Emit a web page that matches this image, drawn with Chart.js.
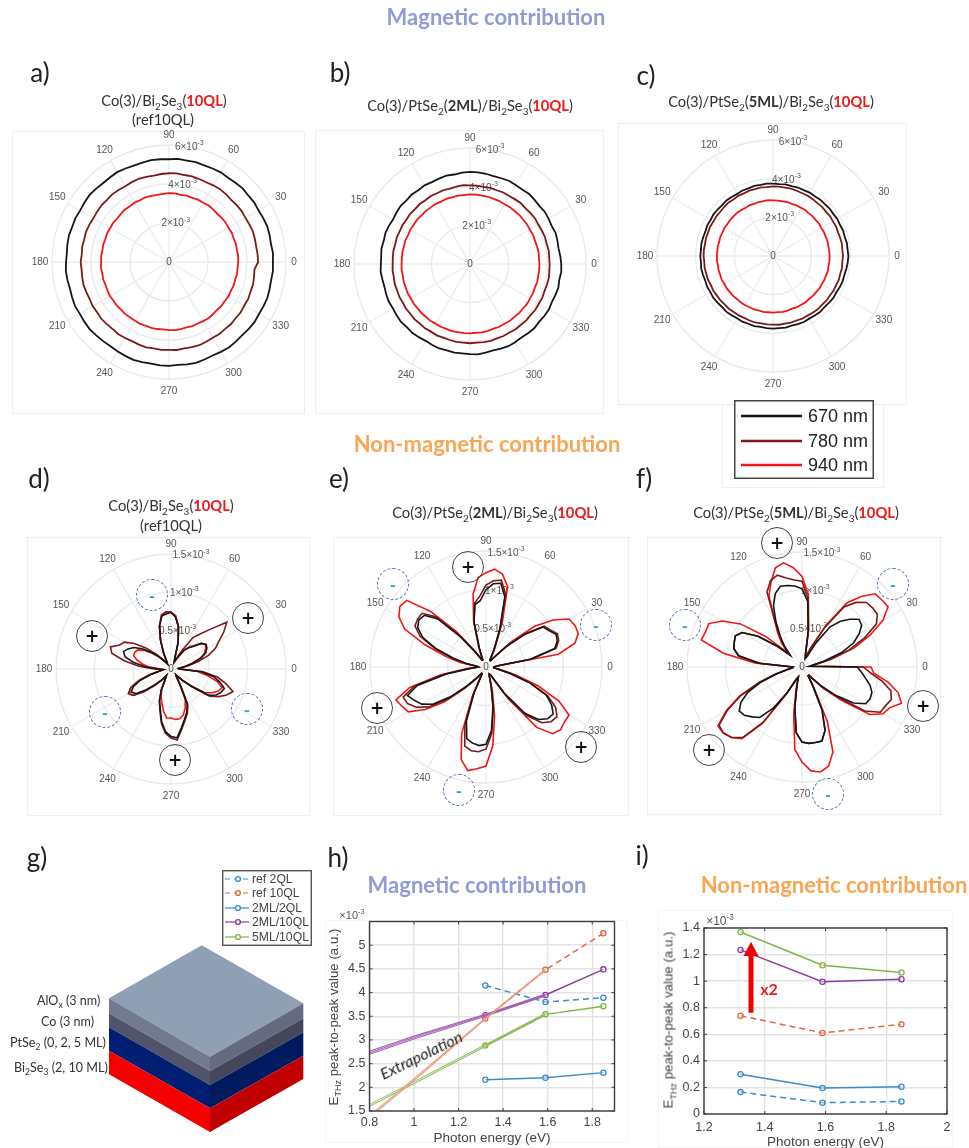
<!DOCTYPE html>
<html>
<head>
<meta charset="utf-8">
<title>THz emission polar maps</title>
<script src="https://cdn.jsdelivr.net/npm/chart.js@4"></script>
<style>
html, body { margin: 0; padding: 0; background: #fff; }
#page { position: relative; width: 969px; height: 1148px; overflow: hidden; filter: blur(0.4px); font-family: Lato, sans-serif; color: #333; }
#page canvas { position: absolute; }
.txt { position: absolute; white-space: nowrap; line-height: 1; }
.frame { position: absolute; border: 1px solid #efefef; box-sizing: border-box; }
.frame.faint { border-color: #f6f6f6; }
.mark { position: absolute; width: 32px; height: 32px; border-radius: 50%; box-sizing: border-box; display: flex; align-items: center; justify-content: center; font-weight: 700; background: transparent; }
.mark.plus { border: 1.4px solid #444; color: #111; font-size: 17px; font-family: "DejaVu Sans", sans-serif; }
.mark.minus { border: 1.4px dashed #4f74b8; color: #2ca6c6; font-size: 17px; }
sub, sup { font-size: 68%; line-height: 0; }
b.red { color: #f01818; }
</style>
</head>
<body>
<div id="page"></div>
<script>
// magnetic maps, 5 deg steps starting at 0 deg, one row per quadrant, units of 1e-3
const magA670 = [
  5.33,5.35,5.31,5.34,5.36,5.33,5.30,5.33,5.31,5.34,5.30,5.28,5.31,5.29,5.27,5.30,5.28,5.31,
  5.27,5.29,5.31,5.28,5.26,5.29,5.32,5.29,5.27,5.30,5.33,5.30,5.27,5.30,5.28,5.31,5.29,5.26,
  5.28,5.31,5.29,5.26,5.29,5.32,5.29,5.31,5.33,5.30,5.28,5.26,5.29,5.31,5.34,5.31,5.29,5.32,
  5.33,5.30,5.33,5.35,5.32,5.29,5.32,5.35,5.33,5.31,5.34,5.36,5.33,5.35,5.37,5.34,5.32,5.35];
const magA780 = [
  4.57,4.56,4.54,4.56,4.58,4.55,4.53,4.55,4.53,4.51,4.54,4.56,4.54,4.51,4.53,4.55,4.53,4.56,
  4.55,4.53,4.50,4.52,4.54,4.52,4.49,4.51,4.53,4.50,4.52,4.50,4.48,4.51,4.53,4.50,4.52,4.49,
  4.53,4.50,4.52,4.54,4.51,4.49,4.52,4.50,4.53,4.51,4.49,4.52,4.50,4.48,4.51,4.53,4.50,4.52,
  4.51,4.53,4.50,4.52,4.54,4.51,4.49,4.51,4.48,4.50,4.47,4.49,4.46,4.48,4.45,4.46,4.43,4.40];
const magA940 = [
  3.55,3.56,3.54,3.55,3.53,3.55,3.52,3.54,3.52,3.50,3.52,3.54,3.51,3.53,3.50,3.52,3.50,3.53,
  3.53,3.51,3.49,3.51,3.53,3.50,3.52,3.49,3.51,3.49,3.47,3.50,3.48,3.50,3.47,3.49,3.47,3.49,
  3.48,3.50,3.47,3.49,3.46,3.48,3.50,3.47,3.49,3.47,3.49,3.47,3.48,3.50,3.48,3.50,3.49,3.47,
  3.49,3.51,3.49,3.47,3.50,3.48,3.50,3.52,3.50,3.48,3.51,3.49,3.52,3.50,3.53,3.51,3.54,3.53];

const magB670 = [
  4.72,4.69,4.65,4.68,4.71,4.66,4.69,4.72,4.68,4.71,4.74,4.70,4.72,4.75,4.72,4.70,4.74,4.76,
  4.77,4.74,4.70,4.73,4.70,4.67,4.70,4.66,4.69,4.65,4.68,4.64,4.60,4.64,4.66,4.62,4.65,4.61,
  4.61,4.64,4.60,4.58,4.61,4.63,4.60,4.63,4.66,4.62,4.65,4.62,4.59,4.62,4.65,4.63,4.66,4.64,
  4.66,4.69,4.66,4.63,4.66,4.69,4.67,4.64,4.67,4.70,4.66,4.69,4.71,4.67,4.70,4.73,4.69,4.74];
const magB780 = [
  4.12,4.11,4.13,4.10,4.12,4.10,4.08,4.11,4.09,4.07,4.10,4.08,4.06,4.08,4.06,4.08,4.05,4.07,
  4.07,4.09,4.06,4.04,4.06,4.04,4.06,4.03,4.05,4.02,4.04,4.01,4.03,4.01,4.03,4.00,4.02,4.01,
  4.00,4.02,4.00,4.03,4.01,4.03,4.01,4.04,4.02,4.05,4.03,4.06,4.04,4.07,4.05,4.07,4.09,4.08,
  4.10,4.08,4.10,4.12,4.09,4.11,4.09,4.12,4.10,4.12,4.10,4.13,4.11,4.13,4.10,4.12,4.14,4.12];
const magB940 = [
  3.59,3.58,3.60,3.58,3.57,3.59,3.57,3.59,3.58,3.60,3.58,3.59,3.57,3.59,3.58,3.60,3.59,3.60,
  3.60,3.58,3.59,3.57,3.58,3.56,3.58,3.56,3.57,3.55,3.57,3.55,3.56,3.54,3.56,3.54,3.55,3.54,
  3.54,3.55,3.53,3.55,3.54,3.56,3.54,3.56,3.55,3.57,3.56,3.58,3.56,3.58,3.57,3.59,3.58,3.59,
  3.59,3.57,3.59,3.58,3.56,3.58,3.57,3.59,3.57,3.59,3.58,3.60,3.58,3.59,3.57,3.60,3.58,3.59];

const magC670 = [
  3.90,3.87,3.88,3.84,3.86,3.82,3.84,3.80,3.82,3.79,3.80,3.77,3.79,3.76,3.77,3.74,3.76,3.73,
  3.74,3.76,3.73,3.75,3.72,3.74,3.71,3.73,3.75,3.72,3.74,3.76,3.73,3.75,3.72,3.74,3.76,3.74,
  3.76,3.74,3.77,3.75,3.73,3.76,3.74,3.77,3.75,3.73,3.76,3.74,3.72,3.75,3.73,3.75,3.72,3.74,
  3.76,3.74,3.76,3.73,3.75,3.77,3.74,3.76,3.78,3.75,3.77,3.80,3.78,3.81,3.83,3.82,3.85,3.88];
const magC780 = [
  3.62,3.60,3.62,3.60,3.58,3.60,3.58,3.60,3.57,3.59,3.57,3.59,3.60,3.58,3.59,3.61,3.59,3.60,
  3.60,3.58,3.60,3.58,3.60,3.57,3.59,3.57,3.60,3.58,3.56,3.58,3.56,3.59,3.57,3.59,3.57,3.59,
  3.59,3.57,3.59,3.57,3.58,3.55,3.57,3.55,3.56,3.54,3.56,3.53,3.55,3.53,3.55,3.56,3.54,3.55,
  3.55,3.57,3.55,3.57,3.55,3.58,3.56,3.58,3.60,3.58,3.60,3.58,3.61,3.59,3.62,3.60,3.62,3.60];
const magC940 = [
  2.93,2.92,2.91,2.92,2.90,2.91,2.89,2.91,2.89,2.90,2.88,2.90,2.88,2.89,2.87,2.88,2.87,2.88,
  2.88,2.90,2.88,2.89,2.87,2.89,2.87,2.89,2.91,2.89,2.90,2.88,2.90,2.88,2.90,2.88,2.90,2.89,
  2.90,2.91,2.89,2.91,2.90,2.92,2.90,2.92,2.91,2.92,2.90,2.92,2.93,2.91,2.93,2.91,2.93,2.92,
  2.93,2.91,2.93,2.92,2.90,2.92,2.91,2.93,2.90,2.92,2.91,2.93,2.91,2.93,2.92,2.94,2.92,2.93];

// non-magnetic maps, 5 deg steps starting at 0 deg, one row per lobe, units of 1e-3
const nonD670 = [
  .12,.10,.20,.30,.42,.50,.54,.56,.52,.42,.36,.30,
  .18,.10,.14,.36,.56,.68,.74,.72,.70,.58,.40,.22,
  .10,.08,.14,.24,.34,.46,.56,.62,.66,.62,.50,.34,
  .16,.10,.14,.26,.42,.54,.60,.56,.42,.28,.18,.10,
  .14,.30,.44,.54,.70,.82,.88,.90,.78,.68,.60,.50,
  .24,.12,.10,.20,.36,.60,.68,.72,.74,.66,.56,.40];
const nonD780 = [
  .10,.10,.22,.36,.52,.64,.72,.84,.95,.74,.60,.50,
  .26,.10,.14,.36,.56,.68,.74,.75,.70,.58,.40,.24,
  .12,.08,.16,.28,.42,.58,.70,.74,.84,.80,.62,.42,
  .22,.10,.14,.28,.44,.58,.64,.60,.46,.30,.20,.12,
  .14,.30,.44,.56,.72,.84,.90,.93,.80,.70,.62,.52,
  .26,.14,.10,.22,.36,.62,.72,.80,.86,.74,.62,.42];
const nonD940 = [
  .10,.10,.18,.28,.40,.48,.52,.55,.52,.44,.38,.30,
  .16,.10,.14,.36,.56,.70,.74,.75,.72,.58,.40,.22,
  .10,.08,.12,.22,.32,.42,.50,.52,.52,.46,.38,.28,
  .14,.10,.16,.30,.46,.58,.64,.60,.44,.30,.18,.10,
  .14,.28,.38,.46,.56,.64,.64,.66,.66,.62,.54,.44,
  .22,.12,.10,.20,.34,.54,.62,.68,.71,.62,.48,.34];

const nonE670 = [
  .10,.14,.58,.92,.98,1.0,.94,.90,.66,.38,.16,.10,
  .10,.24,.52,.94,1.10,1.08,1.0,.86,.82,.60,.24,.10,
  .10,.22,.50,.88,1.04,1.06,1.02,.90,.68,.44,.26,.12,
  .10,.20,.52,.92,1.08,1.02,.96,.84,.60,.34,.18,.10,
  .10,.36,.74,.96,1.0,1.02,1.0,.82,.52,.26,.12,.10,
  .12,.42,.78,.96,1.04,1.06,.98,.86,.60,.32,.16,.10];
const nonE780 = [
  .10,.14,.60,.94,1.0,1.02,.96,.92,.68,.40,.16,.10,
  .10,.24,.54,.98,1.14,1.12,1.06,.92,.84,.60,.24,.10,
  .10,.22,.52,.92,1.08,1.08,1.06,.94,.70,.44,.26,.12,
  .10,.22,.56,.96,1.14,1.12,1.04,.90,.64,.36,.18,.10,
  .10,.38,.80,1.06,1.10,1.10,1.06,.86,.54,.26,.12,.10,
  .12,.44,.82,1.02,1.10,1.12,1.04,.88,.62,.34,.16,.10];
const nonE940 = [
  .10,.14,.95,1.19,1.27,1.27,1.24,1.06,.82,.46,.18,.10,
  .10,.28,.62,1.08,1.22,1.27,1.22,1.16,.96,.62,.28,.10,
  .10,.26,.60,1.02,1.34,1.36,1.30,1.16,.84,.54,.34,.14,
  .10,.26,.60,1.02,1.24,1.20,1.16,.96,.70,.40,.22,.10,
  .10,.42,.92,1.24,1.36,1.32,1.28,1.02,.64,.32,.14,.10,
  .12,.50,1.02,1.22,1.26,1.24,1.24,1.04,.72,.40,.20,.10];

const nonF670 = [
  .72,.10,.14,.30,.55,.74,.86,.95,.97,.88,.78,.64,
  .36,.14,.12,.18,.46,.86,1.02,1.06,1.08,1.09,1.02,.88,
  .68,.50,.36,.22,.42,.70,.90,.96,.94,.92,.84,.56,
  .12,.12,.20,.34,.56,.78,.92,1.0,.98,.92,.86,.66,
  .38,.18,.14,.26,.54,.86,.98,1.0,1.0,1.0,.88,.62,
  .28,.14,.14,.34,.58,.82,.96,.98,.97,.92,.84,.78];
const nonF780 = [
  .80,.10,.16,.38,.66,.90,1.12,1.20,1.20,1.19,1.10,.96,
  .60,.28,.12,.18,.48,.90,1.12,1.14,1.18,1.24,1.20,1.08,
  .72,.52,.38,.22,.42,.70,.90,.96,.94,.92,.84,.56,
  .12,.14,.20,.36,.60,.88,1.12,1.32,1.34,1.30,1.20,.88,
  .40,.18,.14,.26,.54,.86,.98,1.0,1.0,1.0,.88,.62,
  .28,.14,.14,.36,.62,1.0,1.18,1.20,1.24,1.20,1.06,.90];
const nonF940 = [
  .90,.10,.16,.40,.72,.98,1.22,1.37,1.36,1.35,1.20,1.02,
  .62,.30,.14,.18,.50,.95,1.18,1.30,1.38,1.34,1.18,1.02,
  .72,.56,.42,.26,.62,.98,1.20,1.34,1.34,1.36,1.04,.62,
  .12,.14,.20,.36,.60,.90,1.14,1.34,1.34,1.30,1.22,.90,
  .40,.18,.14,.30,.62,1.08,1.24,1.36,1.39,1.34,1.18,.78,
  .30,.14,.14,.40,.68,1.08,1.22,1.26,1.38,1.30,1.14,.94];

// photon energy plots
const energies = [1.32, 1.59, 1.85];
const hRef2QL = [4.15, 3.80, 3.89];
const hRef10QL = [3.45, 4.48, 5.25];
const h2ML2QL = [2.16, 2.20, 2.31];
const h2ML10QL = [3.52, 3.95, 4.49];
const h5ML10QL = [2.88, 3.54, 3.71];
const extrapX = [0.8, 1.0, 1.32, 1.59];
const extrapOrange = [[1.36, 2.14, 3.44, 4.47], [1.40, 2.18, 3.46, 4.49]];
const extrapPurple = [[2.70, 3.02, 3.50, 3.93], [2.73, 3.05, 3.52, 3.95], [2.76, 3.08, 3.54, 3.97]];
const extrapGreen = [[1.60, 2.08, 2.86, 3.52], [1.64, 2.12, 2.90, 3.56]];
const iRef2QL = [0.165, 0.085, 0.095];
const iRef10QL = [0.74, 0.61, 0.675];
const i2ML2QL = [0.30, 0.195, 0.205];
const i2ML10QL = [1.235, 0.995, 1.015];
const i5ML10QL = [1.37, 1.12, 1.065];
const hXTicks = [0.8, 1, 1.2, 1.4, 1.6, 1.8];
const hYTicks = [1.5, 2, 2.5, 3, 3.5, 4, 4.5, 5];
const iXTicks = [1.2, 1.4, 1.6, 1.8, 2];
const iYTicks = [0, 0.2, 0.4, 0.6, 0.8, 1, 1.2, 1.4];
const angleTicks = [0, 30, 60, 90, 120, 150, 180, 210, 240, 270, 300, 330];

const BLACK = '#161616', BROWN = '#7c1a18', RED = '#f21616';
const BLUE = '#3a8ccb', ORANGE = '#e2683f', PURPLE = '#8a3f9e', GREEN = '#7fb548';
const page = document.getElementById('page');

function put(html, x, y, css) {
    let el = document.createElement('div');
    el.className = 'txt';
    el.innerHTML = html;
    el.style.cssText = 'left:' + x + 'px;top:' + y + 'px;transform:translate(-50%,-50%);' + (css || '');
    page.appendChild(el);
    return el;
}

function frame(x0, y0, x1, y1, faint) {
    let el = document.createElement('div');
    el.className = faint ? 'frame faint' : 'frame';
    el.style.cssText = 'left:' + x0 + 'px;top:' + y0 + 'px;width:' + (x1 - x0) + 'px;height:' + (y1 - y0) + 'px';
    page.appendChild(el);
}

function addCanvas(left, top, w, h) {
    let c = document.createElement('canvas');
    c.width = w;
    c.height = h;
    c.style.cssText = 'left:' + left + 'px;top:' + top + 'px;width:' + w + 'px;height:' + h + 'px';
    page.appendChild(c);
    return c;
}

function mark(kind, x, y) {
    let el = document.createElement('div');
    el.className = 'mark ' + kind;
    el.textContent = kind === 'plus' ? '+' : '-';
    el.style.left = (x - 16) + 'px';
    el.style.top = (y - 16) + 'px';
    page.appendChild(el);
}

// angle and radius labels, matlab style, placed through the radial scale
const polarLabels = {
    id: 'polarLabels',
    beforeDatasetsDraw(chart, args, opts) {
        let scale = chart.scales.r, ctx = chart.ctx, step = 360 / chart.data.labels.length;
        let indexOf = theta => ((360 - theta) % 360) / step;
        let outer = scale.getDistanceFromCenterForValue(opts.max);
        ctx.save();
        ctx.fillStyle = '#555';
        ctx.textAlign = 'center';
        ctx.textBaseline = 'middle';
        ctx.font = '10px "Liberation Sans"';
        angleTicks.forEach(theta => {
            let off = theta === 0 ? 8 : (theta === 90 ? 10 : 12);
            let p = scale.getPointPosition(indexOf(theta), outer + off);
            ctx.fillText(String(theta), p.x, p.y);
        });
        ctx.fillText('0', scale.xCenter, scale.yCenter);
        opts.radii.forEach(v => {
            let p = scale.getPointPosition(indexOf(80), scale.getDistanceFromCenterForValue(v));
            let base = String(v) + '\u00d710';
            ctx.font = '10px "Liberation Sans"';
            let w1 = ctx.measureText(base).width;
            ctx.font = '7px "Liberation Sans"';
            let w2 = ctx.measureText('-3').width;
            let left = p.x - (w1 + w2) / 2;
            ctx.textAlign = 'left';
            ctx.font = '10px "Liberation Sans"';
            ctx.fillText(base, left, p.y);
            ctx.font = '7px "Liberation Sans"';
            ctx.fillText('-3', left + w1, p.y - 4);
            ctx.textAlign = 'center';
            ctx.font = '10px "Liberation Sans"';
        });
        ctx.restore();
    }
};

function polarChart(cx, cy, R, max, stepSize, lineWidth, series, radii) {
    const PAD = 24;
    let canvas = addCanvas(cx - R - PAD, cy - R - PAD, 2 * (R + PAD), 2 * (R + PAD));
    let n = series[0].length, step = 360 / n;
    let labels = [];
    for (let i = 0; i < n; i++) {
        labels.push(String((360 - i * step) % 360));
    }
    // radar runs clockwise from startAngle, the data runs counter clockwise
    let flip = arr => arr.map((v, i) => arr[(n - i) % n]);
    let colors = [BLACK, BROWN, RED];
    new Chart(canvas, {
        type: 'radar',
        data: {
            labels: labels,
            datasets: series.map((s, k) => ({
                data: flip(s),
                borderColor: colors[k],
                borderWidth: lineWidth,
                pointRadius: 0,
                fill: false,
                tension: 0
            }))
        },
        options: {
            responsive: false,
            animation: false,
            layout: {padding: PAD},
            scales: {
                r: {
                    startAngle: 90,
                    min: 0,
                    max: max,
                    ticks: {display: false, stepSize: stepSize},
                    pointLabels: {display: false},
                    grid: {circular: true, color: '#e9e9e9', lineWidth: 1.3},
                    angleLines: {
                        color: c => ((c.index * step) % 30 === 0 ? '#ececec' : 'transparent'),
                        lineWidth: 1.3
                    }
                }
            },
            plugins: {
                legend: {display: false},
                tooltip: {enabled: false},
                polarLabels: {max: max, radii: radii}
            }
        },
        plugins: [polarLabels]
    });
}

// dark box with inward ticks
const boxPlugin = {
    id: 'boxPlugin',
    afterDatasetsDraw(chart) {
        let a = chart.chartArea, ctx = chart.ctx;
        ctx.save();
        ctx.strokeStyle = '#3c3c3c';
        ctx.lineWidth = 1.4;
        ctx.strokeRect(a.left, a.top, a.right - a.left, a.bottom - a.top);
        ctx.lineWidth = 1;
        ctx.beginPath();
        chart.scales.x.ticks.forEach(t => {
            let x = chart.scales.x.getPixelForValue(t.value);
            ctx.moveTo(x, a.bottom); ctx.lineTo(x, a.bottom - 3);
            ctx.moveTo(x, a.top); ctx.lineTo(x, a.top + 3);
        });
        chart.scales.y.ticks.forEach(t => {
            let y = chart.scales.y.getPixelForValue(t.value);
            ctx.moveTo(a.left, y); ctx.lineTo(a.left + 3, y);
            ctx.moveTo(a.right, y); ctx.lineTo(a.right - 3, y);
        });
        ctx.stroke();
        ctx.restore();
    }
};

function lineSet(xs, ys, color, dashed, markers) {
    return {
        data: xs.map((x, i) => ({x: x, y: ys[i]})),
        showLine: true,
        borderColor: color,
        borderWidth: markers ? 1.5 : 1.1,
        borderDash: dashed ? [6, 4] : [],
        pointRadius: markers ? 2.6 : 0,
        pointBorderColor: color,
        pointBorderWidth: 1.3,
        pointBackgroundColor: 'rgba(255,255,255,0.4)',
        tension: 0
    };
}

function energyChart(box, plot, xr, yr, xTicks, yTicks, tickPad, datasets) {
    let canvas = addCanvas(box.x, box.y, box.w, box.h);
    let fmt = v => String(+(+v).toFixed(1));
    new Chart(canvas, {
        type: 'scatter',
        data: {datasets: datasets},
        options: {
            responsive: false,
            animation: false,
            layout: {padding: {top: plot.top - box.y, right: box.x + box.w - plot.right}},
            scales: {
                x: {
                    min: xr[0], max: xr[1],
                    afterBuildTicks: s => { s.ticks = xTicks.map(v => ({value: v})); },
                    afterFit: s => { s.height = box.y + box.h - plot.bottom; },
                    grid: {color: '#e3e3e3', lineWidth: 1.4, drawTicks: false},
                    border: {display: false},
                    ticks: {callback: fmt, color: '#444', font: {family: 'Liberation Sans', size: 12.5}, maxRotation: 0, autoSkip: false, padding: tickPad},
                    title: {display: true, text: 'Photon energy (eV)', color: '#444', font: {family: 'Liberation Sans', size: 13.5}, padding: {top: 1, bottom: 0}}
                },
                y: {
                    min: yr[0], max: yr[1],
                    afterBuildTicks: s => { s.ticks = yTicks.map(v => ({value: v})); },
                    afterFit: s => { s.width = plot.left - box.x; },
                    grid: {color: '#e3e3e3', lineWidth: 1.4, drawTicks: false},
                    border: {display: false},
                    ticks: {callback: fmt, color: '#444', font: {family: 'Liberation Sans', size: 12.5}, autoSkip: false, padding: 4}
                }
            },
            plugins: {legend: {display: false}, tooltip: {enabled: false}}
        },
        plugins: [boxPlugin]
    });
}

// headings and panel letters
const HEAD = 'font-weight:700;font-size:22px;';
put('Magnetic contribution', 496, 17, HEAD + 'color:#8e9bd8');
put('Non-magnetic contribution', 487, 444, HEAD + 'color:#f9a654');
put('Magnetic contribution', 477, 885, HEAD + 'color:#8e9bd8');
put('Non-magnetic contribution', 834, 885, HEAD + 'color:#f9a654');
[['a)', 40, 72], ['b)', 340, 72], ['c)', 646, 75], ['d)', 39, 478], ['e)', 339, 478], ['f)', 644, 478], ['g)', 37, 857], ['h)', 338, 857], ['i)', 642, 855]].forEach(p => {
    put(p[0], p[1], p[2], 'font-size:26px;color:#222');
});

const T = 'font-size:14.7px;color:#333;';
const BSE = 'Bi<sub>2</sub>Se<sub>3</sub>(<b class="red">10QL</b>)';
put('Co(3)/' + BSE, 164, 100, T);
put('(ref10QL)', 163, 119, T);
put('Co(3)/PtSe<sub>2</sub>(<b>2ML</b>)/' + BSE, 470, 105, T);
put('Co(3)/PtSe<sub>2</sub>(<b>5ML</b>)/' + BSE, 771, 101, T);
put('Co(3)/' + BSE, 171, 505, T);
put('(ref10QL)', 171, 525, T);
put('Co(3)/PtSe<sub>2</sub>(<b>2ML</b>)/' + BSE, 495, 512, T);
put('Co(3)/PtSe<sub>2</sub>(<b>5ML</b>)/' + BSE, 796, 512, T);

// polar panels
frame(12, 131, 305, 414);
frame(315, 130, 604, 414);
frame(618, 123, 907, 405);
frame(27, 537, 310, 816);
frame(333, 537, 629, 816);
frame(647, 537, 941, 815);
polarChart(169, 262, 117, 6, 2, 1.8, [magA670, magA780, magA940], [2, 4, 6]);
polarChart(470, 264, 116, 6, 2, 1.8, [magB670, magB780, magB940], [2, 4, 6]);
polarChart(773, 256, 116, 6, 2, 1.8, [magC670, magC780, magC940], [2, 4, 6]);
polarChart(171, 669, 115, 1.5, 0.5, 1.6, [nonD670, nonD780, nonD940], [0.5, 1, 1.5]);
polarChart(486, 667, 116, 1.5, 0.5, 1.6, [nonE670, nonE780, nonE940], [0.5, 1, 1.5]);
polarChart(802, 667, 115, 1.5, 0.5, 1.6, [nonF670, nonF780, nonF940], [0.5, 1, 1.5]);

[[248, 618], [92, 636], [175, 760], [468, 567], [377, 708], [581, 747], [777, 543], [923, 706], [709, 750]].forEach(p => mark('plus', p[0], p[1]));
[[152, 595], [105, 712], [247, 709], [393, 584], [596, 625], [459, 790], [893, 584], [685, 625], [828, 794]].forEach(p => mark('minus', p[0], p[1]));

// wavelength legend
frame(722, 404, 884, 488);
let nmLegend = document.createElementNS('http://www.w3.org/2000/svg', 'svg');
nmLegend.setAttribute('style', 'position:absolute;left:734px;top:400px;width:140px;height:79px;background:#fff');
nmLegend.innerHTML = '<rect x="0.75" y="0.75" width="138.5" height="77.5" fill="#fff" stroke="#444" stroke-width="1.5"/>'
    + '<line x1="7" x2="68" y1="16" y2="16" stroke="' + BLACK + '" stroke-width="2.5"/>'
    + '<line x1="7" x2="68" y1="41" y2="41" stroke="' + BROWN + '" stroke-width="2.5"/>'
    + '<line x1="7" x2="68" y1="65" y2="65" stroke="' + RED + '" stroke-width="2.5"/>';
page.appendChild(nmLegend);
[['670 nm', 416], ['780 nm', 441], ['940 nm', 465]].forEach(r => {
    put(r[0], 838, r[1], 'font:18px "Liberation Sans";color:#222');
});

// layer stack sketch
let stack = document.createElementNS('http://www.w3.org/2000/svg', 'svg');
stack.setAttribute('style', 'position:absolute;left:0;top:0;width:969px;height:1148px;pointer-events:none');
let stackHtml = '<polygon points="201.7,945.3 303.3,1003.3 210,1056.7 109,998.3" fill="#8fa0b5"/>';
let leftY = [998.3, 1013.3, 1027.3, 1050.7, 1074.3];
let frontY = [1056.7, 1071, 1085, 1108.3, 1132];
let rightY = [1003.3, 1018.3, 1032.3, 1055.7, 1079];
let faceL = ['#727a92', '#50536a', '#001f72', '#f40000'];
let faceR = ['#666a80', '#44475a', '#001a60', '#c00000'];
for (let i = 0; i < 4; i++) {
    stackHtml += '<polygon points="109,' + leftY[i] + ' 210,' + frontY[i] + ' 210,' + frontY[i + 1] + ' 109,' + leftY[i + 1] + '" fill="' + faceL[i] + '"/>';
    stackHtml += '<polygon points="210,' + frontY[i] + ' 303.3,' + rightY[i] + ' 303.3,' + rightY[i + 1] + ' 210,' + frontY[i + 1] + '" fill="' + faceR[i] + '"/>';
}
stack.innerHTML = stackHtml;
page.appendChild(stack);
const S = 'font-size:12.6px;color:#333;transform:translateY(-50%);';
put('AlO<sub>x</sub> (3 nm)', 37, 1001, S);
put('Co (3 nm)', 41, 1022, S);
put('PtSe<sub>2</sub> (0, 2, 5 ML)', 10, 1043, S);
put('Bi<sub>2</sub>Se<sub>3</sub> (2, 10 ML)', 14, 1068, S);

// energy legend
let eLegend = document.createElementNS('http://www.w3.org/2000/svg', 'svg');
eLegend.setAttribute('style', 'position:absolute;left:222px;top:870px;width:90px;height:76px;background:#fff');
let eRows = [[BLUE, true, 9], [ORANGE, true, 23], [BLUE, false, 38], [PURPLE, false, 52], [GREEN, false, 67]];
let eHtml = '<rect x="0.7" y="0.7" width="88.6" height="74.6" fill="#fff" stroke="#555" stroke-width="1.4"/>';
eRows.forEach(r => {
    eHtml += '<line x1="3" x2="27" y1="' + r[2] + '" y2="' + r[2] + '" stroke="' + r[0] + '" stroke-width="1.2"' + (r[1] ? ' stroke-dasharray="5 4"' : '') + '/>';
    eHtml += '<circle cx="16" cy="' + r[2] + '" r="2.4" fill="#fff" stroke="' + r[0] + '" stroke-width="1.4"/>';
});
eLegend.innerHTML = eHtml;
page.appendChild(eLegend);
[['ref 2QL', 879], ['ref 10QL', 893], ['2ML/2QL', 908], ['2ML/10QL', 922], ['5ML/10QL', 937]].forEach(r => {
    put(r[0], 252, r[1], 'font:12.2px "Liberation Sans";color:#444;transform:translateY(-50%)');
});

// plots h and i
frame(325, 920, 628, 1143, true);
frame(658, 910, 953, 1148, true);
let hSets = [];
extrapOrange.forEach(s => hSets.push(lineSet(extrapX, s, '#e89a7c', false, false)));
extrapPurple.forEach(s => hSets.push(lineSet(extrapX, s, '#a565b8', false, false)));
extrapGreen.forEach(s => hSets.push(lineSet(extrapX, s, '#8fbf60', false, false)));
hSets.push(lineSet(energies, hRef2QL, BLUE, true, true));
hSets.push(lineSet(energies, hRef10QL, ORANGE, true, true));
hSets.push(lineSet(energies, h2ML2QL, BLUE, false, true));
hSets.push(lineSet(energies, h2ML10QL, PURPLE, false, true));
hSets.push(lineSet(energies, h5ML10QL, GREEN, false, true));
energyChart({x: 320, y: 905, w: 310, h: 241}, {left: 369.5, right: 614.5, top: 921.5, bottom: 1111}, [0.8, 1.9], [1.5, 5.5], hXTicks, hYTicks, 4, hSets);

energyChart({x: 660, y: 905, w: 305, h: 245}, {left: 704, right: 947, top: 928, bottom: 1114}, [1.2, 2], [0, 1.4], iXTicks, iYTicks, 6, [
    lineSet(energies, iRef2QL, BLUE, true, true),
    lineSet(energies, iRef10QL, ORANGE, true, true),
    lineSet(energies, i2ML2QL, BLUE, false, true),
    lineSet(energies, i2ML10QL, PURPLE, false, true),
    lineSet(energies, i5ML10QL, GREEN, false, true)
]);

const YT = 'font:13.3px "Liberation Sans";color:#444;';
put('E<sub>THz</sub> peak-to-peak value (a.u.)', 333, 1017, YT + 'transform:translate(-50%,-50%) rotate(-90deg)');
put('E<sub>THz</sub> peak-to-peak value (a.u.)', 668, 1020, YT + 'transform:translate(-50%,-50%) rotate(-90deg)');
put('\u00d710<sup>-3</sup>', 352, 915, 'font:11px "Liberation Sans";color:#555');
put('\u00d710<sup>-3</sup>', 720, 921, 'font:12px "Liberation Sans";color:#555');
put('Extrapolation', 421, 1055, 'font-style:italic;font-size:16px;color:#222;transform:translate(-50%,-50%) rotate(-26deg)');

let arrow = document.createElementNS('http://www.w3.org/2000/svg', 'svg');
arrow.setAttribute('style', 'position:absolute;left:735px;top:935px;width:32px;height:85px');
arrow.innerHTML = '<polygon points="16,6.7 23.5,21 18.5,21 18.5,77.7 13.5,77.7 13.5,21 8.5,21" fill="#f00000"/>';
page.appendChild(arrow);
put('x2', 769, 989, 'font-weight:700;font-size:16px;color:#e81c1c');
</script>
</body>
</html>
